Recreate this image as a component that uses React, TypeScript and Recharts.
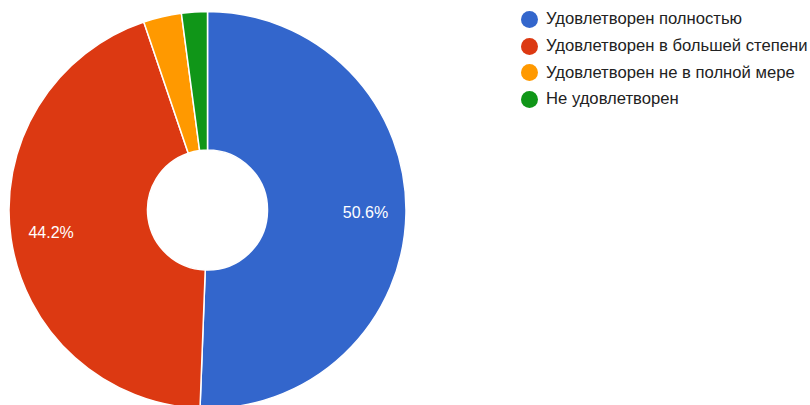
import React from 'react';
import { PieChart, Pie, Cell, Legend } from 'recharts';

const categories = [
  'Удовлетворен полностью',
  'Удовлетворен в большей степени',
  'Удовлетворен не в полной мере',
  'Не удовлетворен',
];
const shares = [50.6, 44.2, 3.1, 2.1];
const colors = ['#3366cc', '#dc3912', '#ff9900', '#109618'];

const data = categories.map((name, i) => ({ name, value: shares[i] }));

const RAD = Math.PI / 180;
const FONT = "Arial, 'Liberation Sans', sans-serif";

const renderLabel = (props: any) => {
  const { cx, cy, midAngle, percent } = props;
  if (percent < 0.05) return null;
  const r = 158;
  const x = cx + r * Math.cos(-midAngle * RAD);
  const y = cy + r * Math.sin(-midAngle * RAD);
  return (
    <text x={x} y={y} fill="#ffffff" fontSize={16} fontFamily={FONT} textAnchor="middle" dominantBaseline="central">
      {(percent * 100).toFixed(1)}%
    </text>
  );
};

const renderLegend = () => (
  <div style={{ fontFamily: FONT, fontSize: 16.65, color: '#222222' }}>
    {categories.map((name, i) => (
      <div key={name} style={{ display: 'flex', alignItems: 'center', height: 26.7, whiteSpace: 'nowrap' }}>
        <svg width={19} height={19} style={{ marginRight: 7, flexShrink: 0 }}>
          <circle cx={9.5} cy={9.5} r={8.5} fill={colors[i]} />
        </svg>
        <span>{name}</span>
      </div>
    ))}
  </div>
);

const App: React.FC = () => {
  return (
    <div style={{ position: 'absolute', left: 0, top: 0, width: 810, height: 405, overflow: 'hidden', background: '#fff' }}>
      <PieChart width={810} height={405} margin={{ top: 0, right: 0, bottom: 0, left: 0 }}>
        <Pie
          data={data}
          dataKey="value"
          nameKey="name"
          cx={207.5}
          cy={210}
          innerRadius={60}
          outerRadius={198.5}
          startAngle={90}
          endAngle={-270}
          stroke="#ffffff"
          strokeWidth={1.5}
          label={renderLabel}
          labelLine={false}
          isAnimationActive={false}
        >
          {data.map((d, i) => (
            <Cell key={d.name} fill={colors[i]} />
          ))}
        </Pie>
        <Legend
          content={renderLegend}
          layout="vertical"
          verticalAlign="top"
          align="right"
          wrapperStyle={{ left: 520, top: 6, width: 290 }}
        />
      </PieChart>
    </div>
  );
};

export default App;
